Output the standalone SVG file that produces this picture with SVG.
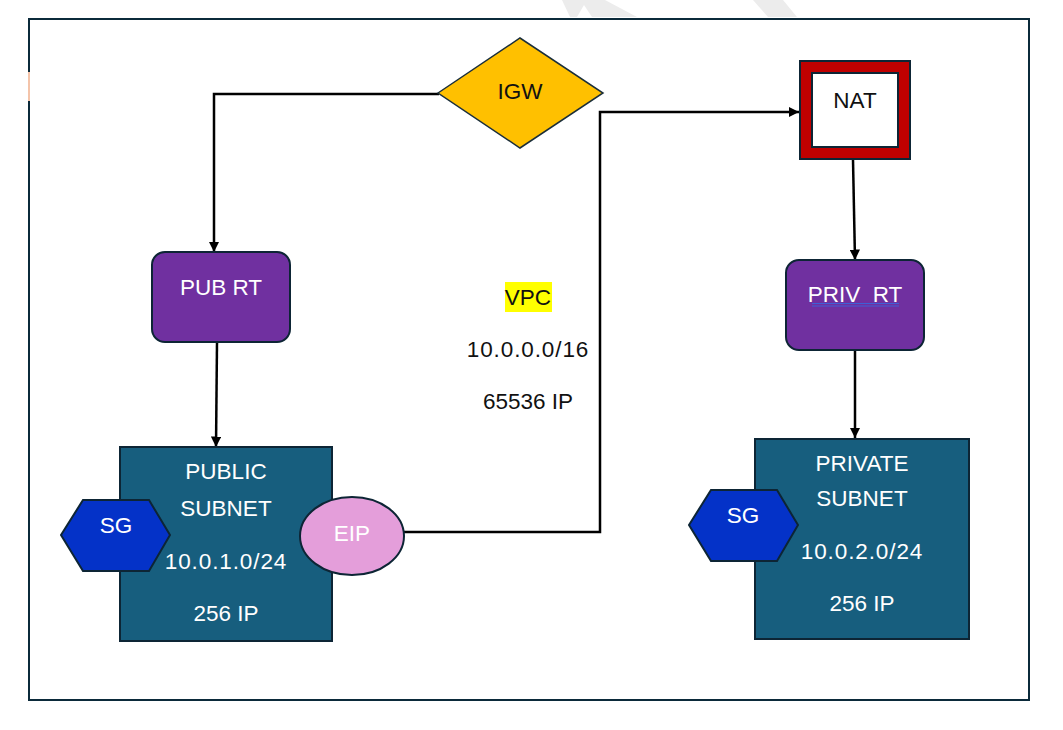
<svg xmlns="http://www.w3.org/2000/svg" width="1063" height="730" viewBox="0 0 1063 730">
<defs>
<marker id="arr" viewBox="0 0 10 10" refX="10" refY="5" markerWidth="4.2" markerHeight="4.2" orient="auto" markerUnits="strokeWidth">
<path d="M0,0 L10,5 L0,10 z" fill="#000"/>
</marker>
<style>
text{font-family:"Liberation Sans",Arial,sans-serif;font-size:22.5px;text-anchor:middle}
.w{fill:#fff}
.k{fill:#111}
.n{letter-spacing:0.9px}
.edge{fill:none;stroke:#000;stroke-width:2.5}
.rt{fill:#7030A0;stroke:#0d2535;stroke-width:2}
.sub{fill:#175E7E;stroke:#0d2535;stroke-width:2}
.sg{fill:#0432C8;stroke:#0d2535;stroke-width:2}
</style>
</defs>
<rect width="1063" height="730" fill="#fff"/>
<g id="watermark" fill="#ececec">
<polygon points="562,0 605,0 637,17 592,17 584,5 577,17 570,17"/>
<polygon points="753,0 783,0 797,17 768,17"/>
</g>
<g id="vpc-frame">
<rect x="29" y="19" width="1000" height="681" fill="none" stroke="#0b2a3a" stroke-width="2"/>
<line x1="29" y1="72" x2="29" y2="101" stroke="#f4c4aa" stroke-width="2"/>
</g>
<g id="connectors">
<polyline class="edge" points="439,94 214,94 214,252" marker-end="url(#arr)"/>
<line class="edge" x1="217" y1="342" x2="216" y2="447" marker-end="url(#arr)"/>
<polyline class="edge" points="404,532 600,532 600,112 799,112" marker-end="url(#arr)"/>
<line class="edge" x1="853" y1="160" x2="855" y2="260" marker-end="url(#arr)"/>
<line class="edge" x1="855" y1="350" x2="855" y2="438" marker-end="url(#arr)"/>
</g>
<g id="igw">
<polygon points="438,93 520,38 603,93 520,148" fill="#FFC000" stroke="#1a2e3a" stroke-width="1.5"/>
<text class="k" x="520" y="99">IGW</text>
</g>
<g id="nat">
<rect x="800" y="61" width="110" height="98" fill="#C00000" stroke="#0d2535" stroke-width="2"/>
<rect x="812" y="73" width="86" height="74" fill="#fff" stroke="#0d2535" stroke-width="2"/>
<text class="k" x="855" y="108">NAT</text>
</g>
<g id="pub-rt">
<rect class="rt" x="152" y="252" width="138" height="90" rx="13"/>
<text class="w" x="221" y="295">PUB RT</text>
</g>
<g id="priv-rt">
<rect class="rt" x="786" y="260" width="138" height="90" rx="13"/>
<text class="w" x="855" y="302" style="white-space:pre" xml:space="preserve">PRIV  RT</text>
<line x1="812" y1="303.5" x2="899" y2="303.5" stroke="#3f5fd6" stroke-width="1"/>
<line x1="812" y1="306" x2="899" y2="306" stroke="#3f5fd6" stroke-width="1"/>
</g>
<g id="vpc-label">
<rect x="505" y="282" width="47" height="30" fill="#FFFF00"/>
<text class="k" x="528" y="305">VPC</text>
<text class="k n" x="528" y="357">10.0.0.0/16</text>
<text class="k" x="528" y="409">65536 IP</text>
</g>
<g id="public-subnet">
<rect class="sub" x="120" y="447" width="212" height="194"/>
<text class="w" x="226" y="479">PUBLIC</text>
<text class="w" x="226" y="516">SUBNET</text>
<text class="w n" x="226" y="569">10.0.1.0/24</text>
<text class="w" x="226" y="621">256 IP</text>
</g>
<g id="public-sg">
<polygon class="sg" points="61,535 83,500 149,500 170,535 149,571 83,571"/>
<text class="w" x="116" y="533">SG</text>
</g>
<g id="eip">
<ellipse cx="352" cy="536" rx="52" ry="39" fill="#E49EDA" stroke="#0d2535" stroke-width="2"/>
<text class="w" x="352" y="541">EIP</text>
</g>
<g id="private-subnet">
<rect class="sub" x="755" y="439" width="214" height="200"/>
<text class="w" x="862" y="471">PRIVATE</text>
<text class="w" x="862" y="506">SUBNET</text>
<text class="w n" x="862" y="559">10.0.2.0/24</text>
<text class="w" x="862" y="611">256 IP</text>
</g>
<g id="private-sg">
<polygon class="sg" points="689,525 711,490 777,490 798,525 777,561 711,561"/>
<text class="w" x="743" y="523">SG</text>
</g>
</svg>
